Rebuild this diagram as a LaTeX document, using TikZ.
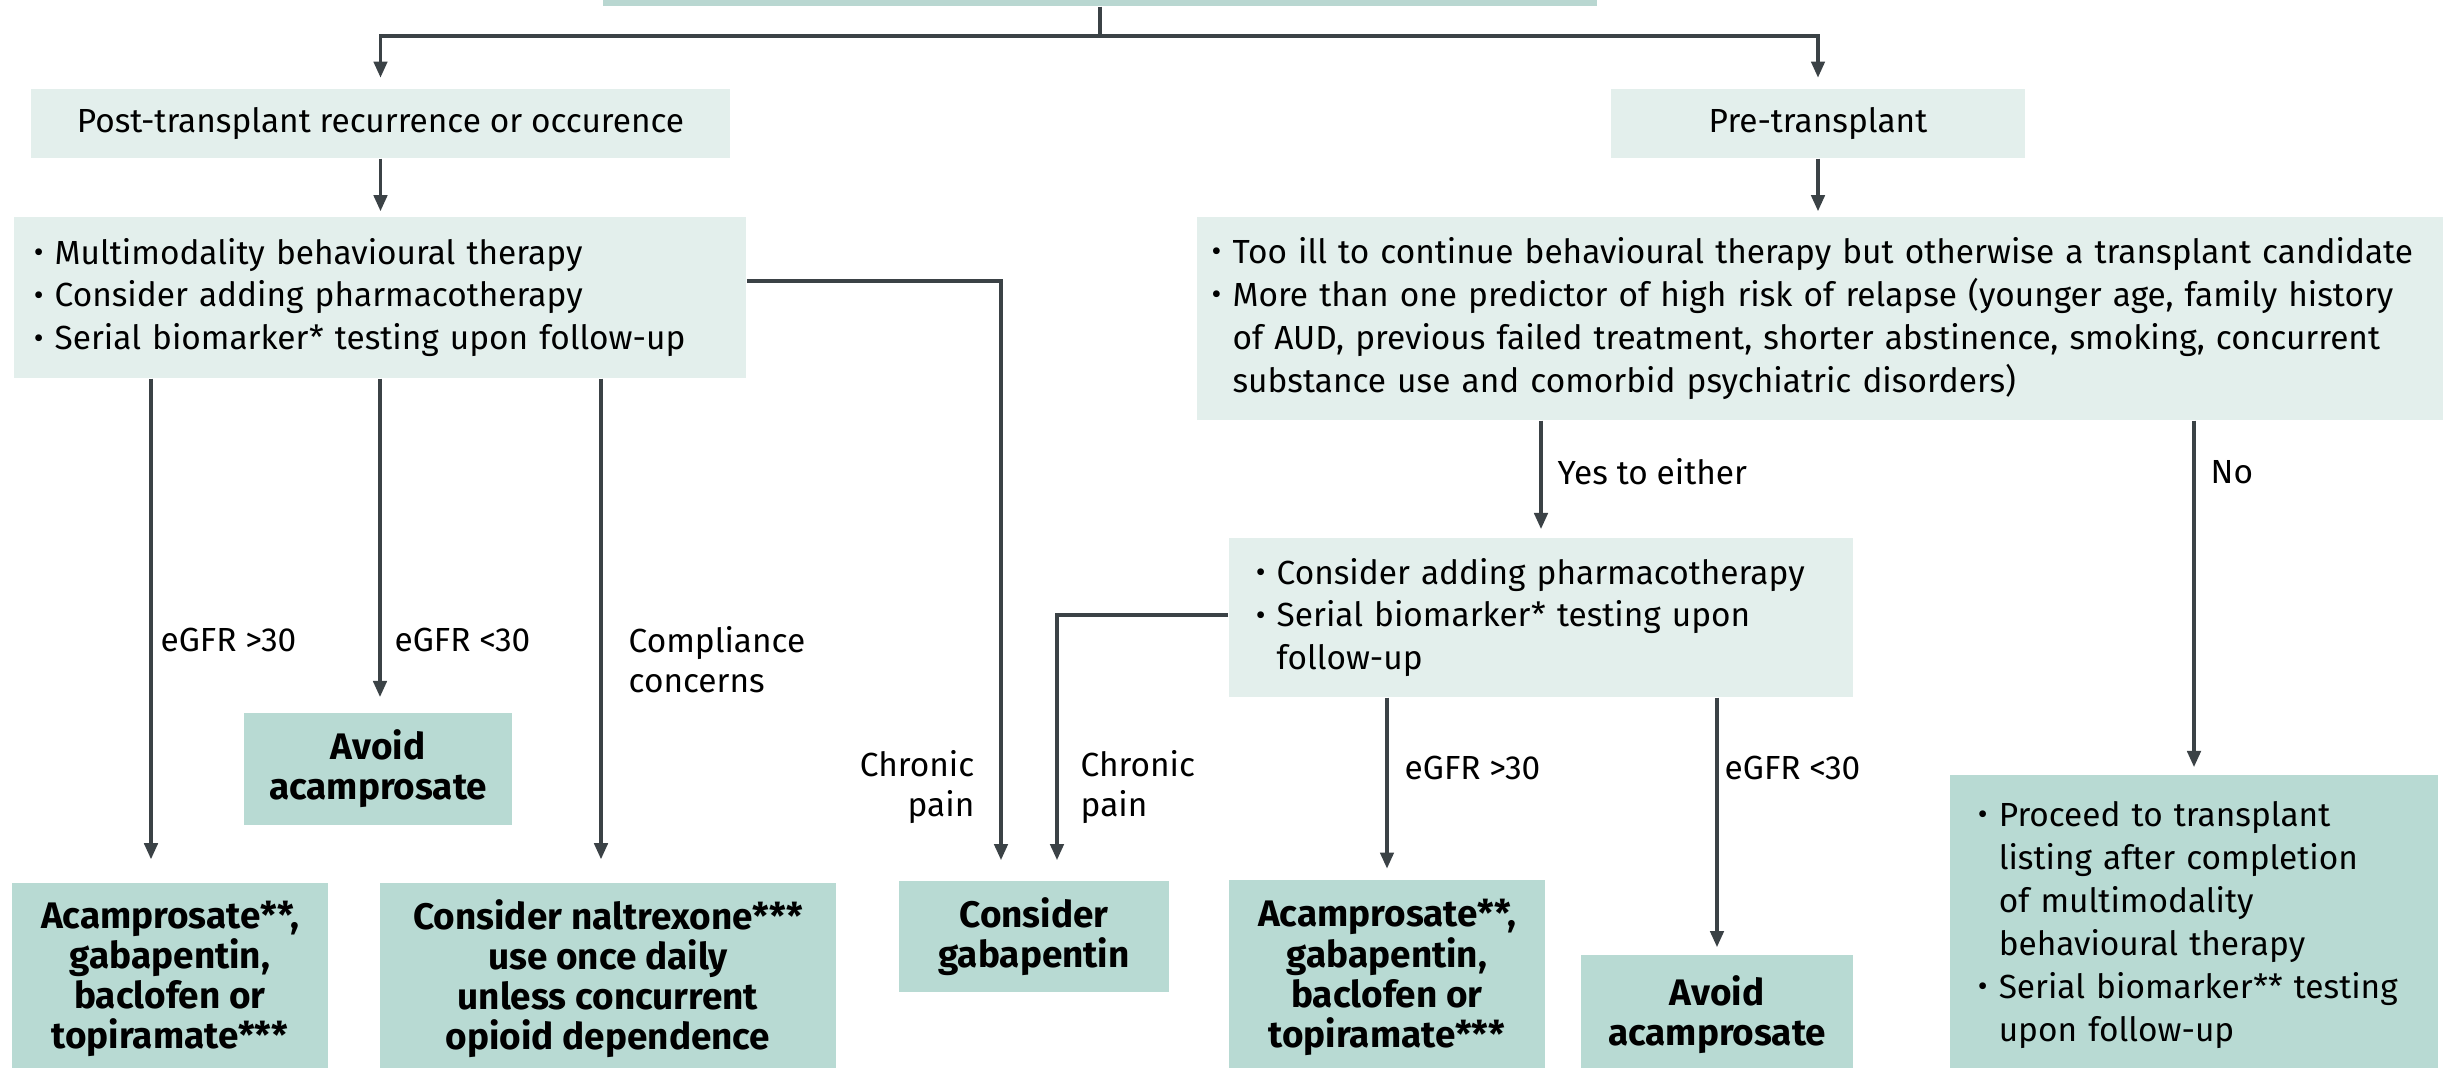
\documentclass[tikz,border=0pt]{standalone}
\usepackage{fontspec}
\setmainfont{Fira Sans}
\usepackage{graphicx}
\usepackage{tikz}
\usetikzlibrary{arrows.meta,positioning}

\definecolor{palebox}{HTML}{E3EFEC}
\definecolor{tealbox}{HTML}{B8DAD3}
\definecolor{headbox}{HTML}{B9D7D1}
\definecolor{linegrey}{HTML}{3B4246}

% bullet and hanging indent for wrapped lines
\newcommand{\bl}{\raisebox{0.1ex}{\scalebox{0.9}{\textbullet}}\ }
\newcommand{\bi}{\phantom{\bl}}

\begin{document}
\begin{tikzpicture}[x=0.01cm,y=-0.01cm,
  font=\fontsize{9.5}{12.2}\selectfont,
  pale/.style={fill=palebox,inner ysep=0pt,align=left},
  res/.style={fill=tealbox,inner sep=0pt,align=center,font=\fontsize{10.5}{11.4}\selectfont\bfseries},
  lbl/.style={inner sep=0pt,font=\fontsize{9.5}{11.4}\selectfont},
  arr/.style={-{Triangle[length=4.6pt,width=3.8pt]},linegrey,line width=1pt},
  ln/.style={linegrey,line width=1pt}]
  \useasboundingbox (0,0) rectangle (2450,1068);

  % header, cut by the page edge
  \node[fill=headbox,minimum width=9.93cm,minimum height=0.6cm,inner sep=0pt] (top) at (1100,-24) {};

  % first split
  \node[fill=palebox,minimum width=6.99cm,minimum height=0.69cm] (post) at (380.5,123.5) {Post-transplant recurrence or occurence};
  \node[fill=palebox,minimum width=4.14cm,minimum height=0.69cm] (pre) at (1818,123.5) {Pre-transplant};

  % bullet boxes
  \node[pale,inner xsep=0.2cm,text width=6.92cm,minimum height=1.61cm] (multi) at (380,297.5)
    {\bl Multimodality behavioural therapy\\
     \bl Consider adding pharmacotherapy\\
     \bl Serial biomarker* testing upon follow-up};
  \node[pale,inner xsep=0.15cm,text width=12.16cm,minimum height=2.03cm] (risk) at (1820,318.5)
    {\bl Too ill to continue behavioural therapy but otherwise a transplant candidate\\
     \bl More than one predictor of high risk of relapse (younger age, family history\\
     \bi of AUD, previous failed treatment, shorter abstinence, smoking, concurrent\\
     \bi substance use and comorbid psychiatric disorders)};
  \node[pale,inner xsep=0.27cm,text width=5.7cm,minimum height=1.59cm] (mid) at (1541,617.5)
    {\bl Consider adding pharmacotherapy\\
     \bl Serial biomarker* testing upon\\
     \bi follow-up};

  % outcome boxes
  \node[res,minimum width=2.68cm,minimum height=1.12cm] (avoidL) at (378,769) {Avoid\\acamprosate};
  \node[res,minimum width=3.16cm,minimum height=1.92cm] (acamL) at (170,979)
    {Acamprosate**,\\gabapentin,\\baclofen or\\topiramate***};
  \node[res,minimum width=4.56cm,minimum height=1.92cm] (nalt) at (608,979)
    {Consider naltrexone***\\use once daily\\unless concurrent\\opioid dependence};
  \node[res,minimum width=2.69cm,minimum height=1.11cm] (gaba) at (1034,936.5) {Consider\\gabapentin};
  \node[res,minimum width=3.16cm,minimum height=1.95cm] (acamR) at (1387,977.5)
    {Acamprosate**,\\gabapentin,\\baclofen or\\topiramate***};
  \node[res,minimum width=2.72cm,minimum height=1.2cm] (avoidR) at (1717,1015) {Avoid\\acamprosate};
  \node[fill=tealbox,inner ysep=0pt,inner xsep=0.28cm,text width=4.32cm,minimum height=3cm,align=left] (listing) at (2194,925)
    {\bl Proceed to transplant\\
     \bi listing after completion\\
     \bi of multimodality\\
     \bi behavioural therapy\\
     \bl Serial biomarker** testing\\
     \bi upon follow-up};

  % branch positions
  \coordinate (split) at (1100,36);
  \coordinate (xa) at (151,0);
  \coordinate (xc) at (601,0);
  \coordinate (xd) at (1001,0);
  \coordinate (xe) at (1057,0);
  \coordinate (ya) at (0,281);
  \coordinate (yb) at (0,615);

  % connectors
  \draw[ln] (top.south) -- (split);
  \draw[arr,shorten >=3pt] (split) -| (post.north);
  \draw[arr,shorten >=3pt] (split) -| (pre.north);
  \draw[arr,shorten >=1.4pt] (post.south) -- (post.south |- multi.north);
  \draw[arr,shorten >=1.4pt] (pre.south) -- (pre.south |- risk.north);
  \draw[arr,shorten >=6.5pt] (multi.south -| xa) -- (acamL.north -| xa);
  \draw[arr,shorten >=4.3pt] (multi.south) -- (multi.south |- avoidL.north);
  \draw[arr,shorten >=6.5pt] (multi.south -| xc) -- (nalt.north -| xc);
  \draw[arr,shorten >=5.7pt] (multi.east |- ya) -| (gaba.north -| xd);
  \draw[arr,shorten >=5.7pt] (mid.west |- yb) -| (gaba.north -| xe);
  \draw[arr,shorten >=2.3pt] (risk.south -| mid.north) -- (mid.north);
  \draw[arr,shorten >=2pt] (risk.south -| listing.north) -- (listing.north);
  \draw[arr,shorten >=3pt] (mid.south -| acamR.north) -- (acamR.north);
  \draw[arr,shorten >=2pt] (mid.south -| avoidR.north) -- (avoidR.north);

  % branch labels
  \node[lbl,anchor=west] (gtL) at (160,640) {eGFR >30};
  \node[lbl,anchor=west] (ltL) at (394,640) {eGFR <30};
  \node[lbl,anchor=west,align=left] (comp) at (628,660) {Compliance\\concerns};
  \node[lbl,anchor=east,align=right] (painL) at (975,787) {Chronic\\pain};
  \node[lbl,anchor=west,align=left] (painR) at (1080,787) {Chronic\\pain};
  \node[lbl,anchor=west] (yes) at (1557,472) {Yes to either};
  \node[lbl,anchor=west] (no) at (2210,472) {No};
  \node[lbl,anchor=west] (gtR) at (1404,768) {eGFR >30};
  \node[lbl,anchor=west] (ltR) at (1724,768) {eGFR <30};
\end{tikzpicture}
\end{document}
